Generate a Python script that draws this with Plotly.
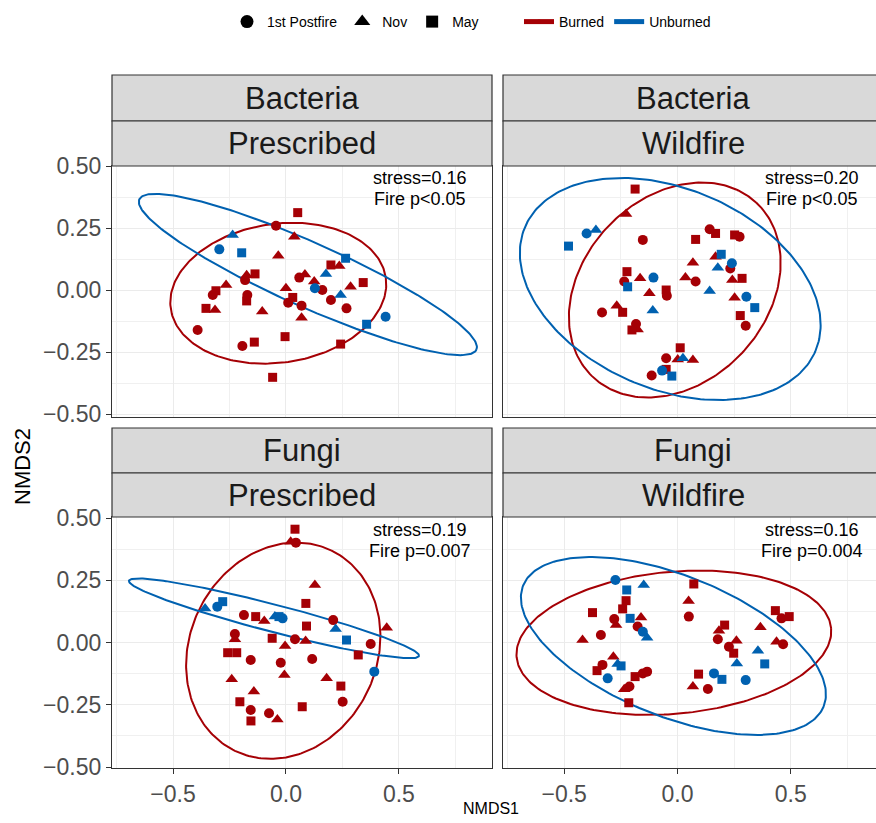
import numpy as np
import plotly.graph_objects as go

FONT = "Liberation Sans, Arial, sans-serif"
RED = "#A50005"
BLUE = "#0061B0"

# ---------------- data ----------------
time_levels = ["1st Postfire", "Nov", "May"]
time_codes = ["P", "N", "M"]
time_symbols = ["circle", "triangle-up", "square"]
fire_levels = ["Burned", "Unburned"]
fire_codes = ["B", "U"]
fire_colors = [RED, BLUE]

kingdoms = ["Bacteria", "Bacteria", "Fungi", "Fungi"]
fire_types = ["Prescribed", "Wildfire", "Prescribed", "Wildfire"]
stress_labels = ["stress=0.16", "stress=0.20", "stress=0.19", "stress=0.16"]
p_labels = ["Fire p&lt;0.05", "Fire p&lt;0.05", "Fire p=0.007", "Fire p=0.004"]

# Panel 1: Bacteria / Prescribed
p1_x = [-0.044, -0.181, 0.059, 0.161, -0.324, -0.171, 0.010, 0.199, 0.268, 0.069, -0.391, -0.193,
        0.037, -0.034, 0.236, -0.174, 0.084, 0.125, 0.286, -0.265, 0.000, 0.069, -0.314, -0.105,
        0.052, 0.199, -0.137, 0.342, -0.310, -0.174, 0.030, -0.354, -0.140, -0.004, 0.242, -0.059,
        -0.295, 0.128, 0.441,
        -0.236, 0.177, 0.242,
        -0.196, 0.264, 0.357]
p1_y = [0.259, 0.040, 0.050, 0.000, -0.020, -0.020, -0.051, -0.040, -0.074, -0.063, -0.161, -0.226,
        0.215, 0.138, 0.097, 0.060, 0.063, 0.034, 0.013, 0.020, 0.007, -0.112, -0.081, -0.087,
        0.312, 0.101, 0.065, 0.030, -0.003, -0.044, -0.030, -0.074, -0.210, -0.188, -0.218, -0.352,
        0.164, 0.007, -0.108,
        0.222, 0.065, -0.020,
        0.150, 0.128, -0.138]
p1_time = list("PPPPPPPPPPPP" "NNNNNNNNNNNN" "MMMMMMMMMMMM" "PPP" "NNN" "MMM")
p1_fire = list("BBBBBBBBBBBBBBBBBBBBBBBBBBBBBBBBBBBB" "UUUUUUUUU")

# Panel 2: Bacteria / Wildfire
p2_x = [-0.153, 0.142, 0.274, 0.233, -0.235, 0.080, -0.047, -0.333, 0.301, -0.183, -0.050, -0.114,
        -0.227, 0.068, 0.168, -0.165, 0.035, 0.242, -0.124, 0.252, -0.268, -0.176, 0.001, 0.068,
        -0.187, 0.080, 0.168, 0.252, -0.223, 0.285, -0.050, -0.242, 0.277, -0.201, 0.012, -0.050,
        -0.401, 0.240, -0.106, 0.304, -0.068,
        -0.360, 0.178, 0.142, -0.109, 0.024,
        -0.481, 0.193, -0.220, 0.341, -0.025]
p2_y = [0.202, 0.245, 0.215, 0.087, 0.034, 0.034, -0.023, -0.091, -0.144, -0.137, -0.275, -0.345,
        0.306, 0.110, 0.134, 0.047, 0.050, 0.040, -0.013, -0.031, -0.063, -0.159, -0.280, -0.282,
        0.407, 0.204, 0.228, 0.222, 0.074, 0.047, 0.000, -0.090, -0.103, -0.161, -0.233, -0.320,
        0.228, 0.108, 0.050, -0.027, -0.325,
        0.242, 0.090, -0.004, -0.083, -0.275,
        0.177, 0.144, 0.013, -0.071, -0.347]
p2_time = list("PPPPPPPPPPPP" "NNNNNNNNNNNN" "MMMMMMMMMMMM" "PPPPP" "NNNNN" "MMMMM")
p2_fire = list("BBBBBBBBBBBBBBBBBBBBBBBBBBBBBBBBBBBB" "UUUUUUUUUUUUUUU")

# Panel 3: Fungi / Prescribed
p3_x = [0.044, -0.186, 0.209, -0.226, 0.040, 0.375, -0.156, 0.116, -0.023, 0.251, -0.156, -0.075,
        0.021, 0.128, -0.096, -0.226, 0.087, 0.446, -0.004, -0.007, -0.240, 0.180, -0.142, -0.038,
        0.040, 0.088, -0.134, 0.091, -0.061, -0.258, -0.218, 0.320, 0.243, -0.204, 0.072, -0.155,
        -0.304, -0.015, 0.391,
        -0.358, -0.049, 0.220,
        -0.280, -0.031, 0.268]
p3_y = [0.401, 0.110, 0.090, 0.034, 0.013, -0.006, -0.070, -0.066, -0.081, -0.238, -0.271, -0.284,
        0.405, 0.231, 0.086, 0.013, 0.006, 0.059, -0.014, -0.131, -0.148, -0.144, -0.197, -0.309,
        0.455, 0.157, 0.104, 0.066, 0.017, -0.041, -0.041, -0.050, -0.175, -0.238, -0.258, -0.315,
        0.144, 0.097, -0.117,
        0.137, 0.104, 0.054,
        0.164, 0.104, 0.010]
p3_time = list("PPPPPPPPPPPP" "NNNNNNNNNNNN" "MMMMMMMMMMMM" "PPP" "NNN" "MMM")
p3_fire = list("BBBBBBBBBBBBBBBBBBBBBBBBBBBBBBBBBBBB" "UUUUUUUUU")

# Panel 4: Fungi / Wildfire
p4_x = [0.050, -0.279, -0.176, -0.338, 0.178, 0.227, 0.459, 0.466, -0.331, -0.153, -0.134, -0.212, 0.134,
        0.049, -0.271, -0.161, -0.419, 0.183, 0.260, 0.366, 0.437, -0.283, -0.235, 0.068,
        0.072, -0.227, -0.242, -0.375, 0.208, 0.248, 0.432, 0.493, -0.355, -0.187, -0.215, 0.093,
        -0.274, -0.153, -0.308, 0.161, 0.301,
        -0.149, -0.134, -0.264, 0.262, 0.355,
        -0.224, -0.209, -0.249, 0.196, 0.385]
p4_y = [0.104, 0.094, 0.064, 0.030, 0.013, -0.017, 0.097, -0.007, -0.090, -0.124, -0.117, -0.177, -0.187,
        0.167, 0.070, 0.100, 0.010, 0.047, 0.007, 0.061, 0.003, -0.057, -0.188, -0.177,
        0.235, 0.168, 0.135, 0.120, 0.070, -0.043, 0.128, 0.104, -0.113, -0.137, -0.242, -0.127,
        0.251, 0.043, -0.144, -0.124, -0.151,
        0.231, 0.019, -0.086, -0.084, -0.033,
        0.211, 0.097, -0.094, -0.148, -0.086]
p4_time = list("PPPPPPPPPPPPP" "NNNNNNNNNNN" "MMMMMMMMMMMM" "PPPPP" "NNNNN" "MMMMM")
p4_fire = list("BBBBBBBBBBBBBBBBBBBBBBBBBBBBBBBBBBBB" "UUUUUUUUUUUUUUU")

panel_x = [p1_x, p2_x, p3_x, p4_x]
panel_y = [p1_y, p2_y, p3_y, p4_y]
panel_time = [p1_time, p2_time, p3_time, p4_time]
panel_fire = [p1_fire, p2_fire, p3_fire, p4_fire]

# 95% ellipses: centre and two conjugate semi-axis vectors
# order per panel: [Burned, Unburned]
ell_cx = [[-0.034, 0.097], [-0.012, -0.032], [-0.012, -0.053], [-0.016, -0.018]]
ell_cy = [[-0.013, 0.0625], [0.000, 0.004], [-0.033, 0.097], [-0.001, -0.014]]
ell_ux = [[0.476, 0.746], [0.360, 0.640], [0.214, 0.642], [0.694, 0.663]]
ell_uy = [[0.0625, -0.303], [0.352, -0.252], [0.402, -0.151], [0.058, -0.243]]
ell_vx = [[-0.0438, 0.058], [-0.298, 0.176], [-0.373, 0.0153], [-0.029, 0.116]]
ell_vy = [[0.277, 0.118], [0.253, 0.370], [0.164, 0.0533], [0.284, 0.262]]

# ---------------- layout geometry (pixels) ----------------
W, H = 876, 823
col_px = [(112, 492), (503, 883)]
row_px = [(166, 417), (517, 768)]
strip_px = [((75, 121), (121, 166)), ((428, 473), (473, 517))]
x_ranges = [[-0.77, 0.912], [-0.77, 0.876]]
y_ranges = [[-0.512, 0.500], [-0.504, 0.504]]


def fx(p):
    return p / W


def fy(p):
    return 1 - p / H


fig = go.Figure()
t = np.linspace(0, 2 * np.pi, 241)

for i in range(4):
    r, c = divmod(i, 2)
    ax = "" if i == 0 else str(i + 1)
    for f in range(2):
        ex = ell_cx[i][f] + ell_ux[i][f] * np.cos(t) + ell_vx[i][f] * np.sin(t)
        ey = ell_cy[i][f] + ell_uy[i][f] * np.cos(t) + ell_vy[i][f] * np.sin(t)
        fig.add_trace(go.Scatter(x=ex, y=ey, mode="lines", line=dict(color=fire_colors[f], width=2),
                                 hoverinfo="skip", showlegend=False, xaxis="x" + ax, yaxis="y" + ax))
    xs, ys, ts, fs = panel_x[i], panel_y[i], panel_time[i], panel_fire[i]
    for f in range(2):
        for k in range(3):
            sx = [x for x, tt, ff in zip(xs, ts, fs) if tt == time_codes[k] and ff == fire_codes[f]]
            sy = [y for y, tt, ff in zip(ys, ts, fs) if tt == time_codes[k] and ff == fire_codes[f]]
            size = [10, 11, 9][k]
            fig.add_trace(go.Scatter(x=sx, y=sy, mode="markers",
                                     marker=dict(symbol=time_symbols[k], size=size, color=fire_colors[f],
                                                 line=dict(width=0)),
                                     name=fire_levels[f] + " " + time_levels[k],
                                     showlegend=False, xaxis="x" + ax, yaxis="y" + ax))

    xd = [fx(col_px[c][0]), min(1.0, fx(col_px[c][1]))]
    yd = [fy(row_px[r][1]), fy(row_px[r][0])]
    common = dict(showline=True, mirror=True, linecolor="#333333", linewidth=1.2,
                  showgrid=True, gridcolor="#EBEBEB", gridwidth=1.1, zeroline=False,
                  automargin=False,
                  tickfont=dict(family=FONT, size=23, color="#4D4D4D"),
                  tickcolor="#333333", tickwidth=1.1, ticklen=5)
    fig.layout["xaxis" + ax] = dict(
        domain=xd, range=x_ranges[c], anchor="y" + ax, tick0=0, dtick=0.5, tickformat=".1f",
        ticks="outside" if r == 1 else "", showticklabels=(r == 1),
        minor=dict(dtick=0.25, tick0=0, showgrid=True, gridcolor="#F0F0F0", gridwidth=0.6, ticks=""),
        **common)
    fig.layout["yaxis" + ax] = dict(
        domain=yd, range=y_ranges[r], anchor="x" + ax, tick0=0, dtick=0.25, tickformat=".2f",
        ticks="outside" if c == 0 else "", showticklabels=(c == 0),
        minor=dict(dtick=0.125, tick0=0, showgrid=True, gridcolor="#F0F0F0", gridwidth=0.6, ticks=""),
        **common)

    for s, label in enumerate([kingdoms[i], fire_types[i]]):
        y0, y1 = strip_px[r][s]
        fig.add_shape(type="rect", xref="paper", yref="paper",
                      x0=fx(col_px[c][0]), x1=fx(col_px[c][1]), y0=fy(y1), y1=fy(y0),
                      fillcolor="#D9D9D9", line=dict(color="#333333", width=1.2), layer="above")
        fig.add_annotation(xref="paper", yref="paper", x=fx((col_px[c][0] + col_px[c][1]) / 2),
                           y=fy((y0 + y1) / 2), text=label, showarrow=False, xanchor="center",
                           yanchor="middle", font=dict(family=FONT, size=31, color="#1A1A1A"))
    fig.add_annotation(xref="x" + ax, yref="y" + ax, x=0.595, y=0.451, text=stress_labels[i],
                       showarrow=False, xanchor="center", yanchor="middle", borderpad=0,
                       font=dict(family=FONT, size=18, color="black"))
    fig.add_annotation(xref="x" + ax, yref="y" + ax, x=0.595, y=0.366, text=p_labels[i],
                       showarrow=False, xanchor="center", yanchor="middle", borderpad=0,
                       font=dict(family=FONT, size=18, color="black"))

# legend entries
for k in range(3):
    fig.add_trace(go.Scatter(x=[None], y=[None], mode="markers", name=time_levels[k],
                             marker=dict(symbol=time_symbols[k], size=[13, 14, 12][k], color="black"),
                             legend="legend", showlegend=True))
for f in range(2):
    fig.add_trace(go.Scatter(x=[None], y=[None], mode="lines+markers", name=fire_levels[f],
                             line=dict(color=fire_colors[f], width=5),
                             marker=dict(symbol="circle", size=4, color=fire_colors[f]),
                             legend="legend2", showlegend=True))

legend_common = dict(orientation="h", xref="container", yref="container",
                     yanchor="middle", y=fy(22), xanchor="left",
                     font=dict(family=FONT, size=14, color="black"), bgcolor="rgba(0,0,0,0)",
                     itemsizing="trace", traceorder="normal")

fig.add_annotation(xref="paper", yref="paper", x=fx(491), y=fy(808), text="NMDS1", showarrow=False,
                   xanchor="center", yanchor="middle", font=dict(family=FONT, size=16, color="black"))
fig.add_annotation(xref="paper", yref="paper", x=fx(23), y=fy(467), text="NMDS2", showarrow=False,
                   textangle=-90, xanchor="center", yanchor="middle",
                   font=dict(family=FONT, size=22, color="black"))

fig.update_layout(
    width=W, height=H, margin=dict(l=0, r=0, t=0, b=0, autoexpand=False),
    paper_bgcolor="white", plot_bgcolor="white",
    font=dict(family=FONT),
    legend=dict(x=fx(227), **legend_common),
    legend2=dict(x=fx(519), **legend_common),
)

fig.write_html("out.html", config={"displayModeBar": False},
               post_script="document.body.style.margin='0';")
